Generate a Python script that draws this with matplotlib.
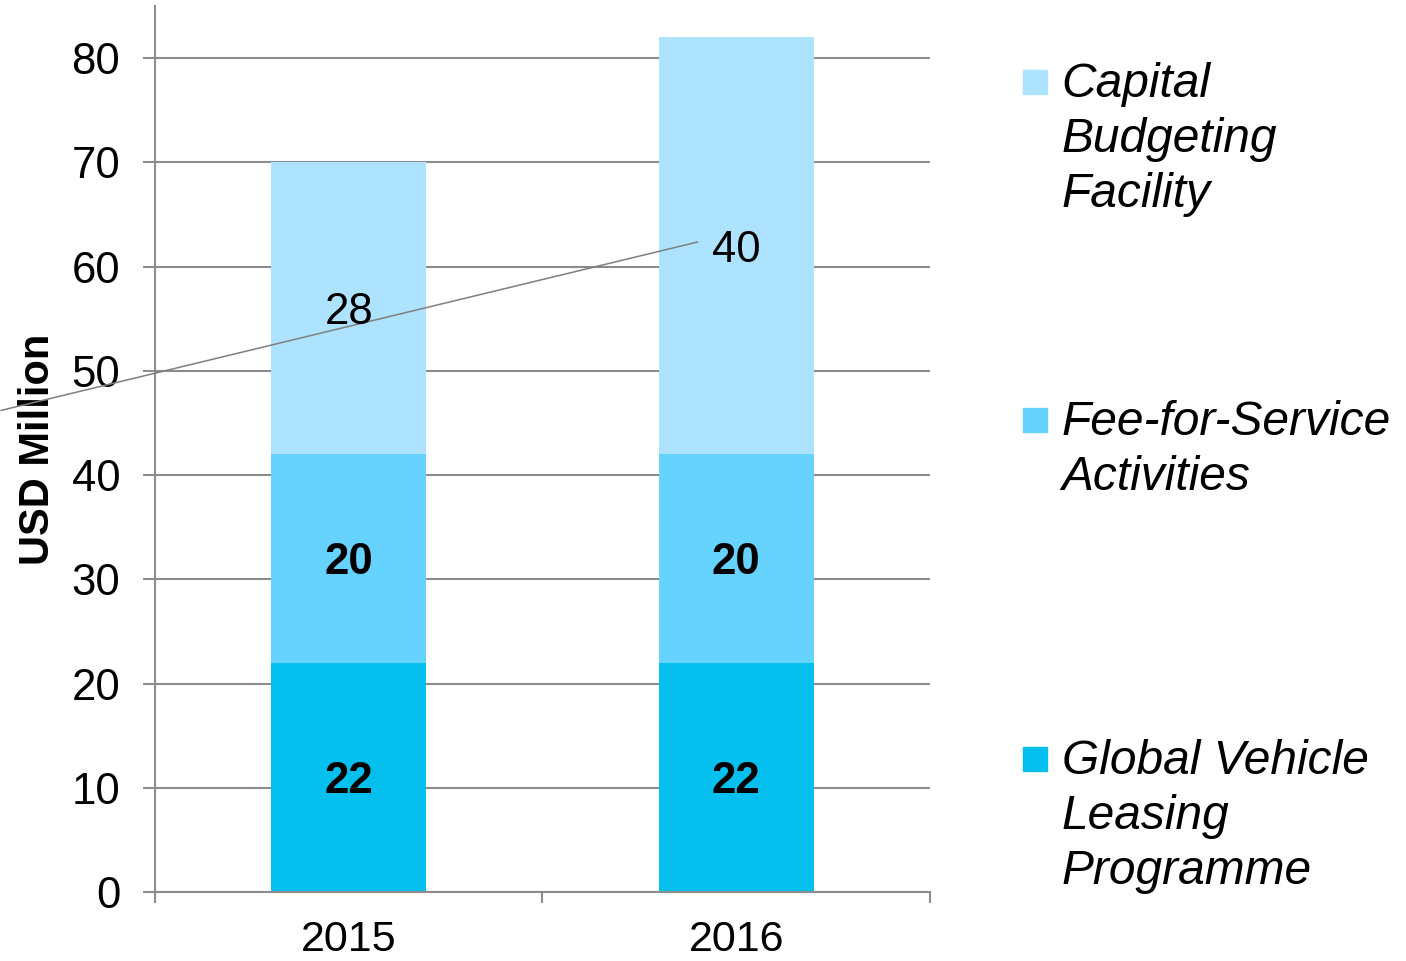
import matplotlib.pyplot as plt
from matplotlib.patches import Rectangle

plt.rcParams['font.family'] = ['Liberation Sans', 'DejaVu Sans']

years = ["2015", "2016"]
global_vehicle = [22, 22]
fee_for_service = [20, 20]
capital_budget = [28, 40]
series_names = ["Global Vehicle\nLeasing\nProgramme",
                "Fee-for-Service\nActivities",
                "Capital\nBudgeting\nFacility"]
colors = ["#05BFEE", "#66D3FF", "#ADE3FE"]
label_bold = [True, True, False]

# stray leader line seen in the original (data coords)
line_x = [-0.897, 0.9]
line_y = [46.2, 62.35]

fig = plt.figure(figsize=(14.06, 9.61), dpi=100)
ax = fig.add_axes([0.1102, 0.0718, 0.5512, 0.9220])

x = list(range(len(years)))
bottom = [0, 0]
for vals, col, bold in zip([global_vehicle, fee_for_service, capital_budget], colors, label_bold):
    ax.bar(x, vals, width=0.4, bottom=bottom, color=col, zorder=2)
    for xi, v, b in zip(x, vals, bottom):
        ax.text(xi, b + v / 2, str(v), ha='center', va='center_baseline', fontsize=31.5,
                fontweight='bold' if bold else 'normal', zorder=4)
    bottom = [b + v for b, v in zip(bottom, vals)]

ax.plot(line_x, line_y, color='#7f7f7f', lw=1.1, clip_on=False, zorder=3)

ax.set_xlim(-0.5, 1.5)
ax.set_ylim(0, 85)
ax.set_yticks(range(0, 81, 10))
ax.yaxis.grid(True, color='#8c8c8c', lw=1.5, zorder=1)
ax.set_axisbelow(True)
ax.tick_params(axis='y', length=9, width=1.5, color='#8c8c8c', labelsize=31.5, pad=16)

ax.set_xticks(x)
ax.set_xticklabels(years)
ax.set_xticks([-0.5, 0.5, 1.5], minor=True)
ax.tick_params(axis='x', which='major', length=0, labelsize=31, pad=20.5)
ax.tick_params(axis='x', which='minor', length=8, width=1.5, color='#8c8c8c')

for s in ['top', 'right']:
    ax.spines[s].set_visible(False)
ax.spines['left'].set_color('#8c8c8c')
ax.spines['left'].set_linewidth(1.5)
ax.spines['bottom'].set_color('#8c8c8c')
ax.spines['bottom'].set_linewidth(1.5)

ax.set_ylabel("USD Million", fontsize=30, fontweight='bold', labelpad=10)

# legend drawn by hand, top entry first
legend_tops = [0.93, 0.578, 0.225]
for name, col, top in zip(series_names[::-1], colors[::-1], legend_tops):
    fig.patches.append(Rectangle((0.7276, top - 0.0275), 0.0171, 0.025,
                                 transform=fig.transFigure, color=col))
    fig.text(0.755, top + 0.006, name, fontsize=34.5, style='italic',
             va='top', ha='left', linespacing=1.29)

fig.savefig("out.png", dpi=100)
